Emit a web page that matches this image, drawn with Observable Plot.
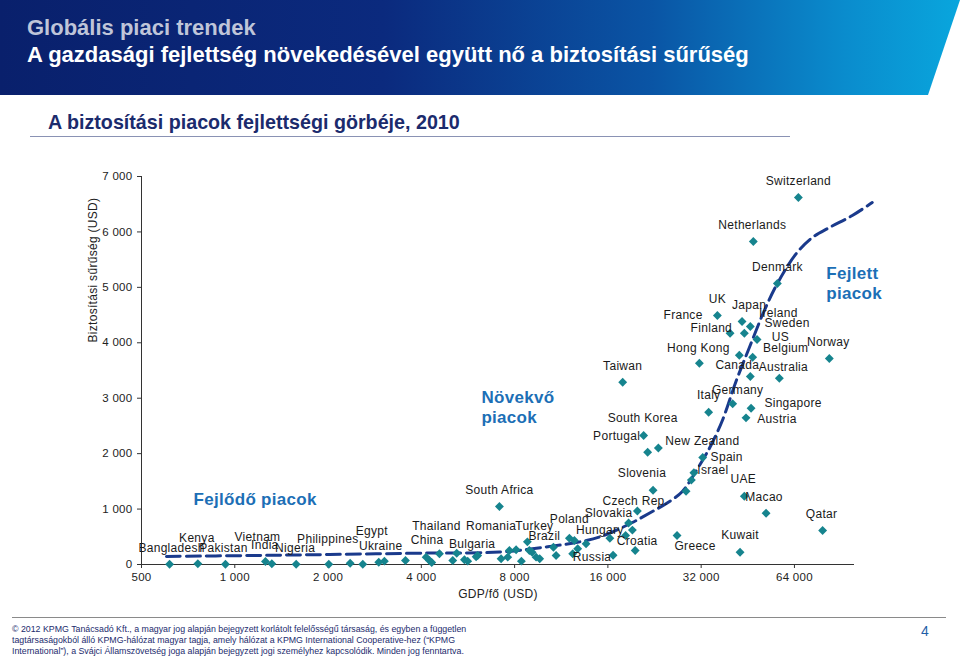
<!DOCTYPE html>
<html><head><meta charset="utf-8">
<script src="https://cdn.jsdelivr.net/npm/d3@7"></script>
<script src="https://cdn.jsdelivr.net/npm/@observablehq/plot@0.6"></script>
<style>
body{margin:0;background:#fff;}
#page{position:relative;width:960px;height:657px;overflow:hidden;background:#fff;font-family:"Liberation Sans",Arial,sans-serif;}
#band{position:absolute;left:0;top:0;width:960px;height:95px;background:linear-gradient(to right,#09206c 0%,#0b2a7e 40%,#0a55a5 68%,#0a8ccd 88%,#09a6dd 100%);clip-path:polygon(0 0,960px 0,928px 95px,0 95px);}
.hd{position:absolute;left:27px;font-family:"Liberation Sans",Arial,sans-serif;font-weight:bold;font-size:22px;white-space:nowrap;}
#t1{top:15px;color:#bfc5d9;}
#t2{top:42px;color:#fff;}
#sub{position:absolute;left:48px;top:111px;font-family:"Liberation Sans",Arial,sans-serif;font-weight:bold;font-size:19.7px;color:#1b2b6d;white-space:nowrap;}
#subline{position:absolute;left:30px;top:136px;width:760px;height:1px;background:#8a92b4;}
#chart{position:absolute;left:0;top:150px;}
#footline{position:absolute;left:12px;top:617px;width:934px;height:1px;background:#8a8a8a;}
#foot{position:absolute;left:12px;top:624px;font-family:"Liberation Sans",Arial,sans-serif;font-size:8.8px;line-height:11px;color:#1b2b6d;white-space:nowrap;}
#pg{position:absolute;left:921px;top:623px;font-size:14px;color:#1f5fa8;}
#chart svg text{letter-spacing:0.3px;}
</style>
</head><body>
<div id="page">
  <div id="band"></div>
  <div class="hd" id="t1">Globális piaci trendek</div>
  <div class="hd" id="t2">A gazdasági fejlettség növekedésével együtt nő a biztosítási sűrűség</div>
  <div id="sub">A biztosítási piacok fejlettségi görbéje, 2010</div>
  <div id="subline"></div>
  <div id="chart"></div>
  <div id="footline"></div>
  <div id="foot">© 2012 KPMG Tanácsadó Kft., a magyar jog alapján bejegyzett korlátolt felelősségű társaság, és egyben a független<br>tagtársaságokból álló KPMG-hálózat magyar tagja, amely hálózat a KPMG International Cooperative-hez (“KPMG<br>International”), a Svájci Államszövetség joga alapján bejegyzett jogi személyhez kapcsolódik. Minden jog fenntartva.</div>
  <div id="pg">4</div>
</div>
<script>
// ---- data ----
const countries = ["Bangladesh","Kenya","Pakistan","Vietnam","India","Nigeria","Philippines","Egypt","Ukraine","China","Thailand","Bulgaria","Romania","South Africa","Turkey","Brazil","Poland","Hungary","Russia","Slovakia","Czech Rep.","Croatia","Slovenia","South Korea","Portugal","New Zealand","Greece","Israel","Spain","Taiwan","UAE","Macao","Qatar","Kuwait","Italy","Germany","Singapore","Austria","Hong Kong","UK","France","Japan","Ireland","Finland","Sweden","US","Belgium","Canada","Australia","Norway","Denmark","Netherlands","Switzerland"];
const gdpPerCapita = [616,760,933,1256,1317,1578,2011,2589,2915,4145,4576,6010,7236,7146,8797,10675,12021,16236,16630,18660,19920,19600,22380,20870,21500,23280,26750,30310,32370,17860,44100,51840,78900,42720,33830,40440,46370,44660,31580,36100,39670,43360,46110,44110,48470,42490,46920,46110,57210,82940,56370,47150,65900];
const insuranceDensity = [5,13,5,54,13,5,5,5,41,132,193,139,103,1046,409,312,474,473,168,749,965,253,1340,2327,2026,2102,523,1656,1930,3289,1232,925,613,222,2747,2899,2820,2646,3631,4492,4173,4384,4294,4173,4059,3776,3740,3392,3361,3716,5069,5827,6621];

// unlabelled markets
const otherGdp = [2357,3040,3555,4249,4321,5052,5203,5510,5646,6081,7601,7697,8090,8414,8929,9110,9386,9640,10889,12475,12784,12320,13606,18250,19195,28600,29750];
const otherDensity = [23,60,72,72,36,72,204,85,60,162,132,253,265,60,253,222,132,103,162,433,283,193,373,523,621,1321,1523];

// development curve (dashed trend)
const curveGdp = [602,1116,2021,4249,7146,10360,13640,15820,19190,22270,24710,27820,30880,33010,34520,37460,41560,45790,51170,56370,64900,73100,82940,98400,114100];
const curveDensity = [144,162,180,207,225,325,433,541,758,956,1100,1317,1696,1966,2165,2598,3319,3915,4582,5069,5610,5899,6079,6296,6531];

// segment annotations
const segmentNames = ["Fejlődő piacok","Növekvő\npiacok","Fejlett\npiacok"];
const segmentGdp = [736,6250,81100];
const segmentDensity = [1190,2850,5087];

const xTicks = [500,1000,2000,4000,8000,16000,32000,64000];
const yTicks = [0,1000,2000,3000,4000,5000,6000,7000];
const xTitle = "GDP/fő (USD)";
const yTitle = "Biztosítási sűrűség (USD)";

// ---- layout: label offsets (px) relative to each marker ----
const labelOffset = {
  "Bangladesh":[2,-16],"Kenya":[-1,-26],"Pakistan":[-2,-16],"Vietnam":[-8,-24],"India":[-7,-19],
  "Nigeria":[-1,-16],"Philippines":[-1,-25],"Egypt":[9,-33],"Ukraine":[2,-16],"China":[1,-17],
  "Thailand":[-3,-28],"Bulgaria":[-4,-13],"Romania":[-10,-33],"South Africa":[0,-16],"Turkey":[7,-16],
  "Brazil":[-9,-11],"Poland":[0,-19],"Hungary":[-10,-8],"Russia":[-21,2],"Slovakia":[-20,-10],
  "Czech Rep.":[-2,-10],"Croatia":[2,-9],"Slovenia":[-11,-17],"South Korea":[-1,-17],"Portugal":[-31,-16],
  "New Zealand":[44,-7],"Greece":[18,11],"Israel":[19,-3],"Spain":[24,0],"Taiwan":[0,-16],
  "UAE":[-1,-17],"Macao":[-2,-16],"Qatar":[-1,-16],"Kuwait":[0,-17],"Italy":[0,-17],
  "Germany":[5,-14],"Singapore":[42,-5],"Austria":[31,1],"Hong Kong":[-1,-15],"UK":[0,-16],
  "France":[-47,-18],"Japan":[7,-16],"Ireland":[28,-13],"Finland":[-33,-5],"Sweden":[30,-16],
  "US":[41,-18],"Belgium":[33,-9],"Canada":[-13,-11],"Australia":[4,-11],"Norway":[-1,-16],
  "Denmark":[0,-16],"Netherlands":[-1,-16],"Switzerland":[0,-16]
};

const markets = countries.map((c,i)=>({country:c,gdp:gdpPerCapita[i],density:insuranceDensity[i]}));
const others = otherGdp.map((g,i)=>({gdp:g,density:otherDensity[i]}));
const curve = curveGdp.map((g,i)=>({gdp:g,density:curveDensity[i]}));
const segments = segmentNames.map((n,i)=>({name:n,gdp:segmentGdp[i],density:segmentDensity[i]}));

const fmt = d3.formatLocale({decimal:",",thousands:" ",grouping:[3],currency:["",""]}).format(",d");
const teal = "#16848e";
const segBlue = "#1c6fb6";

const labelMarks = markets.map(d => Plot.text([d], {
  x:"gdp", y:"density", text:"country",
  dx: labelOffset[d.country][0], dy: labelOffset[d.country][1],
  fontSize: 12, fill: "#1a1a1a", lineAnchor:"middle"
}));

const chart = Plot.plot({
  width: 960, height: 460,
  marginLeft: 141, marginRight: 106, marginTop: 26, marginBottom: 46,
  x: {type:"log", base:2, domain:[500,100000]},
  y: {domain:[0,7000]},
  style: {fontFamily:"'Liberation Sans', Arial, sans-serif", fontSize:"11px", color:"#222", background:"transparent", overflow:"visible"},
  marks: [
    Plot.axisX({ticks:xTicks, tickFormat:fmt, tickSize:4, tickPadding:4, label:null, fontSize:11.5, stroke:"#333"}),
    Plot.axisY({ticks:yTicks, tickFormat:fmt, tickSize:4, tickPadding:5, label:null, fontSize:11.5, stroke:"#333"}),
    Plot.ruleX([500], {stroke:"#333"}),
    Plot.ruleY([0], {stroke:"#333"}),
    Plot.line(curve, {x:"gdp", y:"density", curve:"catmull-rom", stroke:"#1a3a8c", strokeWidth:3, strokeDasharray:"14,6"}),
    Plot.dot(others, {x:"gdp", y:"density", symbol:"diamond2", r:4, fill:teal, stroke:"none"}),
    Plot.dot(markets, {x:"gdp", y:"density", symbol:"diamond2", r:4, fill:teal, stroke:"none"}),
    ...labelMarks,
    Plot.text(segments, {x:"gdp", y:"density", text:"name", fill:segBlue, fontSize:17, fontWeight:"bold",
      textAnchor:"start", lineHeight:1.15}),
    Plot.text([xTitle], {frameAnchor:"bottom", dy:30, fontSize:12, fill:"#222", lineAnchor:"middle"}),
    Plot.text([yTitle], {frameAnchor:"left", dx:-48, dy:-28, rotate:-90, fontSize:12, fill:"#222", lineAnchor:"middle"})
  ]
});
document.getElementById("chart").appendChild(chart);
</script>
</body></html>
